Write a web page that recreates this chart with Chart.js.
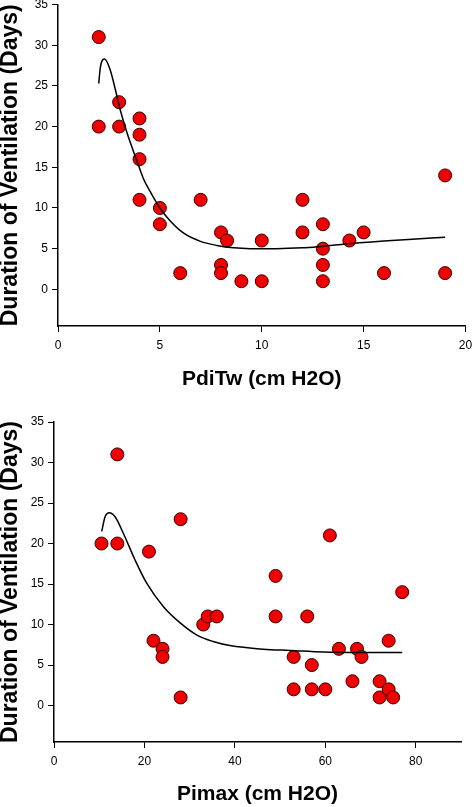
<!DOCTYPE html>
<html>
<head>
<meta charset="utf-8">
<script src="https://cdn.jsdelivr.net/npm/chart.js@4.4.1/dist/chart.umd.min.js"></script>
<style>
  body { margin: 0; background: #fff; }
  canvas { display: block; }
  #pdiChart { margin-top: -3px; }
</style>
</head>
<body>
<canvas id="pdiChart" width="473" height="403"></canvas>
<canvas id="pimaxChart" width="473" height="407"></canvas>
<script>
// PdiTw panel
const pdiX    = [2, 2, 3, 3, 4, 4, 4, 4, 5, 5, 6, 7, 8, 8, 8, 8.3, 9, 10, 10, 12, 12, 13, 13, 13, 13, 14.3, 15, 16, 19, 19];
const pdiDays = [31, 20, 23, 20, 21, 19, 16, 11, 10, 8, 2, 11, 7, 3, 2, 6, 1, 6, 1, 11, 7, 8, 5, 3, 1, 6, 7, 2, 14, 2];
const pdiFitX = [2, 2.08, 2.29, 2.57, 2.82, 3.06, 3.39, 3.8, 4.21, 4.53, 5, 5.51, 6.17, 6.99, 7.8, 8.62, 9.44, 10.7, 12, 13, 15, 17, 19];
const pdiFitY = [25.3, 27.3, 28.3, 26.9, 24.5, 22, 19.2, 16.3, 13.5, 12, 10, 8.4, 6.9, 5.9, 5.4, 5.1, 5, 5, 5.1, 5.3, 5.75, 6.1, 6.4];
const pdiTicks = [0, 5, 10, 15, 20];

// Pimax panel
const pimaxX    = [10.5, 14, 14, 21, 28, 28, 22, 24, 24, 33, 34, 36, 49, 49, 53, 53, 56, 57, 57, 60, 61, 63, 66, 67, 68, 72, 72, 74, 74, 75, 77];
const pimaxDays = [20, 31, 20, 19, 23, 1, 8, 7, 6, 10, 11, 11, 16, 11, 6, 2, 11, 5, 2, 2, 21, 7, 3, 7, 6, 3, 1, 8, 2, 1, 14];
const pimaxFitX = [10.55, 11.3, 12.2, 13.5, 15.3, 17.9, 20.5, 24.2, 27.9, 31.6, 35.2, 38.9, 46.3, 52.2, 59.6, 68, 77];
const pimaxFitY = [21.5, 23.3, 23.8, 23.3, 21.3, 18, 15.1, 12.2, 10.2, 8.7, 7.9, 7.4, 6.95, 6.8, 6.6, 6.55, 6.55];
const pimaxTicks = [0, 20, 40, 60, 80];

const dayTicks = [0, 5, 10, 15, 20, 25, 30, 35];

function toPoints(xs, ys) {
  return xs.map((x, i) => ({ x: x, y: ys[i] }));
}

function makeChart(canvasId, opts) {
  const ctx = document.getElementById(canvasId).getContext("2d");
  return new Chart(ctx, {
    type: "scatter",
    data: {
      datasets: [
        {
          label: "fit",
          data: toPoints(opts.fitX, opts.fitY),
          showLine: true,
          borderColor: "#000",
          borderWidth: 1.5,
          pointRadius: 0,
          cubicInterpolationMode: "monotone",
          fill: false,
          order: 0,
        },
        {
          label: "patients",
          data: toPoints(opts.x, opts.y),
          backgroundColor: "#f00000",
          borderColor: "#3a0000",
          borderWidth: 1,
          pointRadius: 6.5,
          pointHoverRadius: 6.5,
          order: 1,
        },
      ],
    },
    options: {
      responsive: false,
      animation: false,
      clip: false,
      layout: { padding: opts.padding },
      plugins: { legend: { display: false }, tooltip: { enabled: false } },
      scales: {
        x: {
          type: "linear",
          min: 0,
          max: opts.xMax,
          afterBuildTicks: (scale) => {
            scale.ticks = opts.xTicks.map((v) => ({ value: v }));
          },
          afterFit: (scale) => {
            scale.height = opts.xHeight;
            scale.paddingLeft = 0;
            scale.paddingRight = 0;
          },
          grid: { drawOnChartArea: false, drawTicks: true, tickLength: 6, color: "#000" },
          border: { display: true, color: "#000", width: 1.5 },
          ticks: {
            color: "#000",
            padding: 6,
            maxRotation: 0,
            font: { family: "Liberation Sans, Arial", size: 12 },
          },
          title: {
            display: true,
            text: opts.xTitle,
            color: "#000",
            padding: { top: 0, bottom: opts.xTitlePad },
            font: { family: "Liberation Sans, Arial", size: 21, weight: "bold" },
          },
        },
        y: {
          type: "linear",
          min: -4.5,
          max: 35,
          afterBuildTicks: (scale) => {
            scale.ticks = dayTicks.map((v) => ({ value: v }));
          },
          afterFit: (scale) => {
            scale.width = opts.yWidth;
            scale.paddingTop = 0;
            scale.paddingBottom = 0;
          },
          grid: { drawOnChartArea: false, drawTicks: true, tickLength: 6, color: "#000" },
          border: { display: true, color: "#000", width: 1.5 },
          ticks: {
            color: "#000",
            padding: 4,
            font: { family: "Liberation Sans, Arial", size: 12 },
          },
          title: {
            display: true,
            text: "Duration of Ventilation (Days)",
            color: "#000",
            padding: { top: 0, bottom: 0 },
            font: { family: "Liberation Sans, Arial", size: 23, weight: "bold", lineHeight: 0.9 },
          },
        },
      },
    },
  });
}

makeChart("pdiChart", {
  x: pdiX, y: pdiDays, fitX: pdiFitX, fitY: pdiFitY,
  xMax: 20, xTicks: pdiTicks, xTitle: "PdiTw (cm H2O)",
  padding: { top: 1, right: 7, bottom: 0, left: 0 },
  xHeight: 74, yWidth: 58, xTitlePad: 8,
});

makeChart("pimaxChart", {
  x: pimaxX, y: pimaxDays, fitX: pimaxFitX, fitY: pimaxFitY,
  xMax: 90, xTicks: pimaxTicks, xTitle: "Pimax (cm H2O)",
  padding: { top: 22, right: 12, bottom: 0, left: 0 },
  xHeight: 65, yWidth: 54, xTitlePad: 0,
});
</script>
</body>
</html>
